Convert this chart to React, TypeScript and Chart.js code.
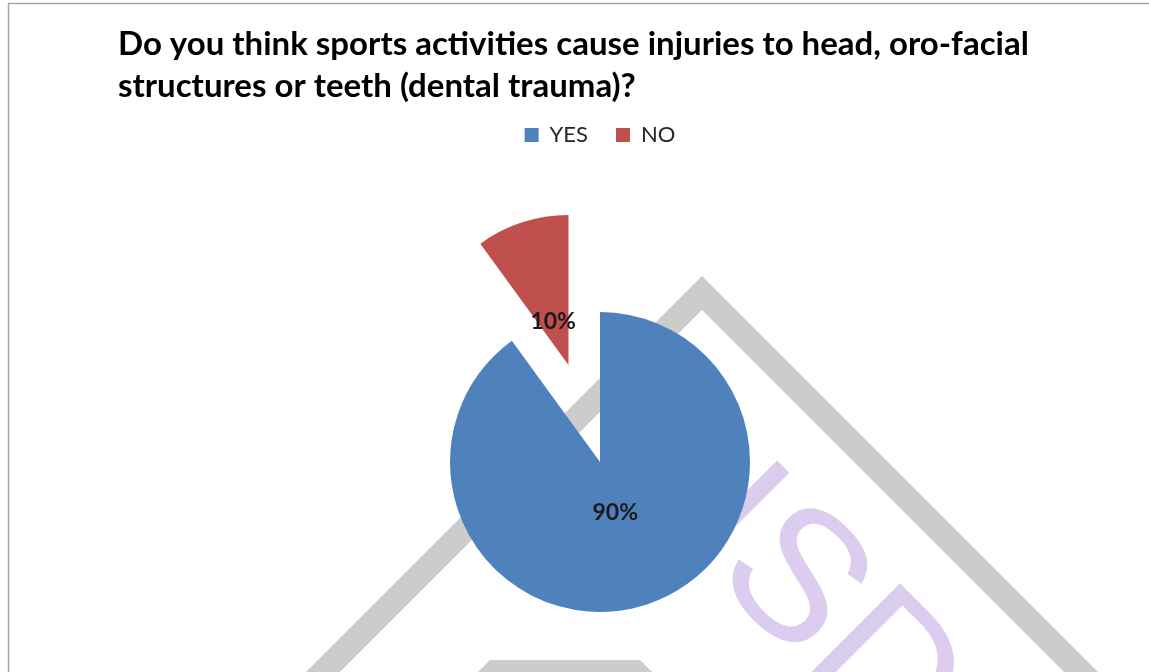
import React, { useEffect, useRef } from 'react';
import { Chart, registerables } from 'chart.js';

Chart.register(...registerables);

// ---- data ----
const categories: string[] = ['YES', 'NO'];
const values: number[] = [90, 10];
const titleLines: string[] = [
  'Do you think sports activities cause injuries to head, oro-facial',
  'structures or teeth (dental trauma)?',
];
const watermarkText = 'ISDR';

// ---- style ----
const sliceColors = ['#4F81BD', '#C0504D'];
const EXPLODED_INDEX = 1;
const EXPLODE_PX = 102;
const LABEL_FRACTION = 0.33;
const LABEL_DY = 4;
const CANVAS_W = 1149;
const CANVAS_H = 768; // taller than the viewport so the pie centre sits lower; the overflow is clipped

const decorPlugin = {
  id: 'decor',
  beforeDraw(chart: any) {
    const { ctx, width, height } = chart;
    ctx.save();
    ctx.fillStyle = '#ffffff';
    ctx.fillRect(0, 0, width, height);
    // watermark chevron
    ctx.strokeStyle = '#CCCCCC';
    ctx.lineWidth = 24;
    ctx.lineJoin = 'miter';
    ctx.beginPath();
    ctx.moveTo(702 - 900, 293 + 900);
    ctx.lineTo(702, 293);
    ctx.lineTo(702 + 900, 293 + 900);
    ctx.stroke();
    ctx.fillStyle = '#CCCCCC';
    ctx.beginPath();
    ctx.moveTo(490, 660);
    ctx.lineTo(640, 660);
    ctx.lineTo(668, 688);
    ctx.lineTo(462, 688);
    ctx.closePath();
    ctx.fill();
    // watermark text
    ctx.rotate(Math.PI / 4);
    ctx.font = '186px "Liberation Sans", Arial, sans-serif';
    ctx.fillStyle = '#DCCDF0';
    ctx.textBaseline = 'alphabetic';
    ctx.textAlign = 'left';
    ctx.fillText(watermarkText, 858, -96);
    ctx.restore();
    // frame
    ctx.save();
    ctx.strokeStyle = '#A6A6A6';
    ctx.lineWidth = 1.5;
    ctx.beginPath();
    ctx.moveTo(8.5, height);
    ctx.lineTo(8.5, 3.5);
    ctx.lineTo(width, 3.5);
    ctx.stroke();
    ctx.restore();
  },
};

// Chart.js enlarges and narrows offset arcs; undo that so an exploded slice
// keeps the base radius and its true angular extent.
const explodeFixPlugin = {
  id: 'explodeFix',
  afterDatasetsUpdate(chart: any) {
    const meta = chart.getDatasetMeta(0);
    meta.data.forEach((arc: any) => {
      const o = (arc.options.offset || 0) / 4;
      if (!o) return;
      const fix = 1 - Math.sin(Math.min(Math.PI, arc.circumference || 0));
      const radiusOffset = o * fix;
      const R = arc.outerRadius; // visual radius wanted
      arc.outerRadius = R - radiusOffset;
      const widen = radiusOffset / Math.PI / R / 2;
      arc.startAngle -= widen;
      arc.endAngle += widen;
    });
  },
};

const labelPlugin = {
  id: 'sliceLabels',
  afterDatasetsDraw(chart: any) {
    const { ctx } = chart;
    const meta = chart.getDatasetMeta(0);
    const total = values.reduce((a, b) => a + b, 0);
    ctx.save();
    ctx.font = 'bold 23px Lato, sans-serif';
    ctx.fillStyle = '#1A1A1A';
    ctx.textAlign = 'center';
    ctx.textBaseline = 'middle';
    meta.data.forEach((arc: any, i: number) => {
      const o = (arc.options.offset || 0) / 4;
      const fix = 1 - Math.sin(Math.min(Math.PI, arc.circumference || 0));
      const r = arc.outerRadius + o * fix;
      const mid = (arc.startAngle + arc.endAngle) / 2;
      const d = o + r * LABEL_FRACTION;
      const x = arc.x + Math.cos(mid) * d;
      const y = arc.y + Math.sin(mid) * d + LABEL_DY;
      ctx.fillText(Math.round((values[i] / total) * 100) + '%', x, y);
    });
    ctx.restore();
  },
};

export default function App() {
  const ref = useRef<HTMLCanvasElement>(null);
  useEffect(() => {
    const chart = new Chart(ref.current as HTMLCanvasElement, {
      type: 'pie',
      data: {
        labels: categories,
        datasets: [
          {
            data: values,
            backgroundColor: sliceColors,
            borderWidth: 0,
            offset: (c: any) => (c.dataIndex === EXPLODED_INDEX ? EXPLODE_PX * 4 : 0),
          } as any,
        ],
      },
      options: {
        animation: false,
        responsive: false,
        devicePixelRatio: 1,
        radius: 150,
        layout: { padding: { left: 118, right: 67, top: 0, bottom: 0 } },
        plugins: {
          title: {
            display: true,
            text: titleLines,
            align: 'start',
            color: '#000000',
            font: { family: 'Lato', size: 33, weight: 'bold', lineHeight: 42 / 33 },
            padding: { top: 23, bottom: -11 },
          },
          legend: {
            display: true,
            position: 'top',
            align: 'center',
            labels: {
              boxWidth: 14,
              boxHeight: 14,
              padding: 28,
              color: '#262626',
              font: { family: 'Lato', size: 22 },
            },
          },
          tooltip: { enabled: false },
        },
      } as any,
      plugins: [decorPlugin, explodeFixPlugin, labelPlugin],
    });
    return () => chart.destroy();
  }, []);
  return (
    <div
      style={{
        position: 'fixed',
        left: 0,
        top: 0,
        width: CANVAS_W,
        height: 672,
        overflow: 'hidden',
        background: '#ffffff',
      }}
    >
      <canvas ref={ref} width={CANVAS_W} height={CANVAS_H} style={{ display: 'block' }} />
    </div>
  );
}
